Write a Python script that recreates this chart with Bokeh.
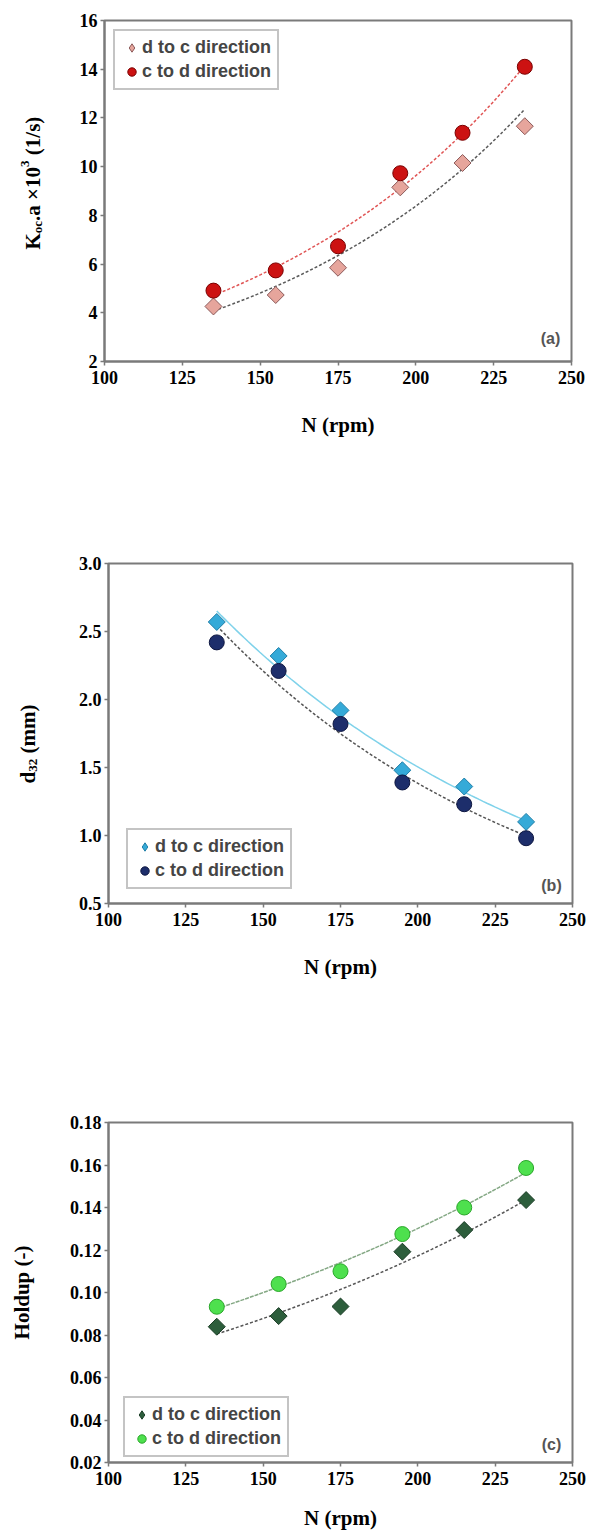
import numpy as np
from bokeh.plotting import figure
from bokeh.layouts import column, row
from bokeh.models import (FixedTicker, PrintfTickFormatter, Legend, LegendItem,
                          Label, Range1d)
from bokeh.embed import file_html
from bokeh.resources import INLINE

# ---------------- data ----------------
rpm = [135, 155, 175, 195, 215, 235]
rpm_ticks = [100, 125, 150, 175, 200, 225, 250]
series_names = ["d to c direction", "c to d direction"]

kla_d_to_c = [4.26, 4.73, 5.85, 9.15, 10.15, 11.66]
kla_c_to_d = [4.91, 5.74, 6.73, 9.73, 11.39, 14.10]
kla_ticks = [2, 4, 6, 8, 10, 12, 14, 16]

d32_d_to_c = [2.57, 2.32, 1.92, 1.48, 1.36, 1.10]
d32_c_to_d = [2.42, 2.21, 1.82, 1.39, 1.23, 0.98]
d32_ticks = [0.5, 1.0, 1.5, 2.0, 2.5, 3.0]

holdup_d_to_c = [0.0839, 0.0889, 0.0934, 0.1192, 0.1294, 0.1435]
holdup_c_to_d = [0.0933, 0.1040, 0.1100, 0.1275, 0.1400, 0.1586]
holdup_ticks = [0.02, 0.04, 0.06, 0.08, 0.10, 0.12, 0.14, 0.16, 0.18]

SERIF = "Liberation Serif"
SANS = "Liberation Sans"
FRAME = "#7a7a7a"
W = 590
LW = 58  # width of the side strip that carries the composite y labels


def exp_fit(x, y, n=80):
    x = np.asarray(x, float)
    y = np.asarray(y, float)
    b, a = np.polyfit(x, np.log(y), 1)
    xs = np.linspace(x.min(), x.max(), n)
    return xs, np.exp(a + b * xs)


def make_panel(width, height, left, right, top, bottom, yticks, fmt, xlabel_standoff):
    p = figure(width=width, height=height, min_border_left=left, min_border_right=right,
               min_border_top=top, min_border_bottom=bottom,
               x_range=Range1d(rpm_ticks[0], rpm_ticks[-1]),
               y_range=Range1d(yticks[0], yticks[-1]),
               output_backend="svg", toolbar_location=None)
    p.grid.visible = False
    p.outline_line_color = FRAME
    p.outline_line_width = 2
    p.background_fill_color = "white"
    for ax in (p.xaxis[0], p.yaxis[0]):
        ax.axis_line_color = FRAME
        ax.axis_line_width = 2
        ax.major_tick_line_color = FRAME
        ax.major_tick_line_width = 1.5
        ax.major_tick_in = 0
        ax.major_tick_out = 4
        ax.minor_tick_line_color = None
        ax.major_label_text_font = SERIF
        ax.major_label_text_font_style = "bold"
        ax.major_label_text_font_size = "18px"
        ax.major_label_text_color = "black"
        ax.axis_label_text_font = SERIF
        ax.axis_label_text_font_style = "bold"
        ax.axis_label_text_font_size = "21px"
        ax.axis_label_text_color = "black"
    p.xaxis.ticker = FixedTicker(ticks=rpm_ticks)
    p.yaxis.ticker = FixedTicker(ticks=yticks)
    p.yaxis.formatter = PrintfTickFormatter(format=fmt)
    p.yaxis.major_label_standoff = 3
    p.xaxis.axis_label = "N (rpm)"
    p.xaxis.axis_label_standoff = xlabel_standoff
    return p


def label_strip(main, height, top, bottom):
    s = figure(width=LW, height=height, x_range=Range1d(0, LW), y_range=main.y_range,
               min_border_left=0, min_border_right=0,
               min_border_top=top, min_border_bottom=bottom,
               x_axis_location=None, y_axis_location=None,
               output_backend="svg", toolbar_location=None)
    s.grid.visible = False
    s.outline_line_color = None
    return s


def add_series(p, yd, yc, dc_style, cd_style, line_dc, line_cd):
    xs, ys = exp_fit(rpm, yd)
    p.line(xs, ys, line_color=line_dc[0], line_width=1.5, line_dash=line_dc[1])
    xs, ys = exp_fit(rpm, yc)
    p.line(xs, ys, line_color=line_cd[0], line_width=1.5, line_dash=line_cd[1])
    # legend proxy for the diamond series (legend glyphs ignore the marker angle)
    r_dc = p.scatter(x=[np.nan], y=[np.nan], marker="diamond", size=12,
                     fill_color=dc_style[0], line_color=dc_style[1], line_width=1)
    p.scatter(rpm, yd, marker="square", angle=np.pi / 4, size=12,
              fill_color=dc_style[0], line_color=dc_style[1], line_width=1)
    r_cd = p.scatter(rpm, yc, marker="circle", size=15,
                     fill_color=cd_style[0], line_color=cd_style[1], line_width=1)
    return r_dc, r_cd


def add_legend(p, r_dc, r_cd, location, margin=9):
    leg = Legend(items=[LegendItem(label=series_names[0], renderers=[r_dc]),
                        LegendItem(label=series_names[1], renderers=[r_cd])],
                 location=location, margin=margin,
                 border_line_color="#8a8a8a", border_line_width=2,
                 background_fill_color="white", background_fill_alpha=1,
                 label_text_font=SANS, label_text_font_style="bold",
                 label_text_font_size="18px", label_text_color="#454545",
                 glyph_width=21, glyph_height=21, label_standoff=0,
                 spacing=3, padding=6)
    p.add_layout(leg)


def add_tag(p, text, fx, fy, fw, fh):
    xr, yr = p.x_range, p.y_range
    x = xr.start + fx * (xr.end - xr.start) / fw
    y = yr.start + fy * (yr.end - yr.start) / fh
    p.add_layout(Label(x=x, y=y, text=text, text_font=SANS, text_font_style="bold",
                       text_font_size="16px", text_color="#555555",
                       text_align="center", text_baseline="middle"))


def add_vlabel(s, pieces, base_x, start_px, fh):
    """pieces: (text, font_px, shift_px, advance_before_px, advance_px);
    start_px is measured upward from the bottom of the frame."""
    yr = s.y_range
    k = (yr.end - yr.start) / fh
    pos = start_px
    for text, size, shift, pre, adv in pieces:
        pos += pre
        s.add_layout(Label(x=base_x + shift, y=yr.start + pos * k, text=text,
                           angle=np.pi / 2,
                           text_font=SERIF, text_font_style="bold",
                           text_font_size=f"{size}px", text_color="black",
                           text_align="left", text_baseline="alphabetic"))
        pos += adv


F = 21
S = 13

# ---------------- panel (a) ----------------
Ha, La, Ra, Ta, Ba = 478, 46, 19, 20, 117
pa = make_panel(W - LW, Ha, La, Ra, Ta, Ba, kla_ticks, "%d", 26)
fwa, fha = W - LW - La - Ra, Ha - Ta - Ba
ra_dc, ra_cd = add_series(pa, kla_d_to_c, kla_c_to_d,
                          ("#e6a59c", "#8c5a5a"), ("#cc1212", "#7a0000"),
                          ("#5a5a5a", "3 2"), ("#e05555", "3 2"))
add_legend(pa, ra_dc, ra_cd, "top_left")
add_tag(pa, "(a)", fwa - 21, 23, fwa, fha)
sa = label_strip(pa, Ha, Ta, Ba)
add_vlabel(sa, [("K", F, 0, 0, 0.778 * F),
                ("oc", S, 5, 0, 0.944 * S),
                (".a \u00d710", F, 0, 0, 2.57 * F),
                ("3", S, -8, 0, 0.5 * S),
                ("(1/s)", F, 0, 0.25 * F, 1.833 * F)],
           32, 112, fha)

# ---------------- panel (b) ----------------
Hb, Lb, Rb, Tb, Bb = 540, 50, 18, 85, 115
pb = make_panel(W - LW, Hb, Lb, Rb, Tb, Bb, d32_ticks, "%.1f", 26)
fwb, fhb = W - LW - Lb - Rb, Hb - Tb - Bb
rb_dc, rb_cd = add_series(pb, d32_d_to_c, d32_c_to_d,
                          ("#35aad8", "#1f7fa8"), ("#1d2e6b", "#0d1640"),
                          ("#7fd2ea", "solid"), ("#555555", "3 2"))
add_legend(pb, rb_dc, rb_cd, (18, 14))
add_tag(pb, "(b)", fwb - 21, 18, fwb, fhb)
sb = label_strip(pb, Hb, Tb, Bb)
add_vlabel(sb, [("d", F, 0, 0, 0.556 * F),
                ("32", S, 5, 0, 1.0 * S),
                ("(mm)", F, 0, 0.25 * F, 2.33 * F)],
           27, 120, fhb)

# ---------------- panel (c) ----------------
Hc, Lc, Rc, Tc, Bc = 522, 108, 18, 104, 78
pc = make_panel(W, Hc, Lc, Rc, Tc, Bc, holdup_ticks, "%.2f", 18)
fwc, fhc = W - Lc - Rc, Hc - Tc - Bc
pc.yaxis.axis_label = "Holdup (-)"
pc.yaxis.axis_label_standoff = 33
rc_dc, rc_cd = add_series(pc, holdup_d_to_c, holdup_c_to_d,
                          ("#2d5e3c", "#1b3d26"), ("#4ee04e", "#2aa62a"),
                          ("#555555", "3 2"), ("#84a884", "4 1"))
add_legend(pc, rc_dc, rc_cd, (15, 5))
add_tag(pc, "(c)", fwc - 21, 18, fwc, fhc)

layout = column(row(sa, pa, spacing=0), row(sb, pb, spacing=0), pc, spacing=0)
open("out.html", "w").write(file_html(layout, INLINE))
